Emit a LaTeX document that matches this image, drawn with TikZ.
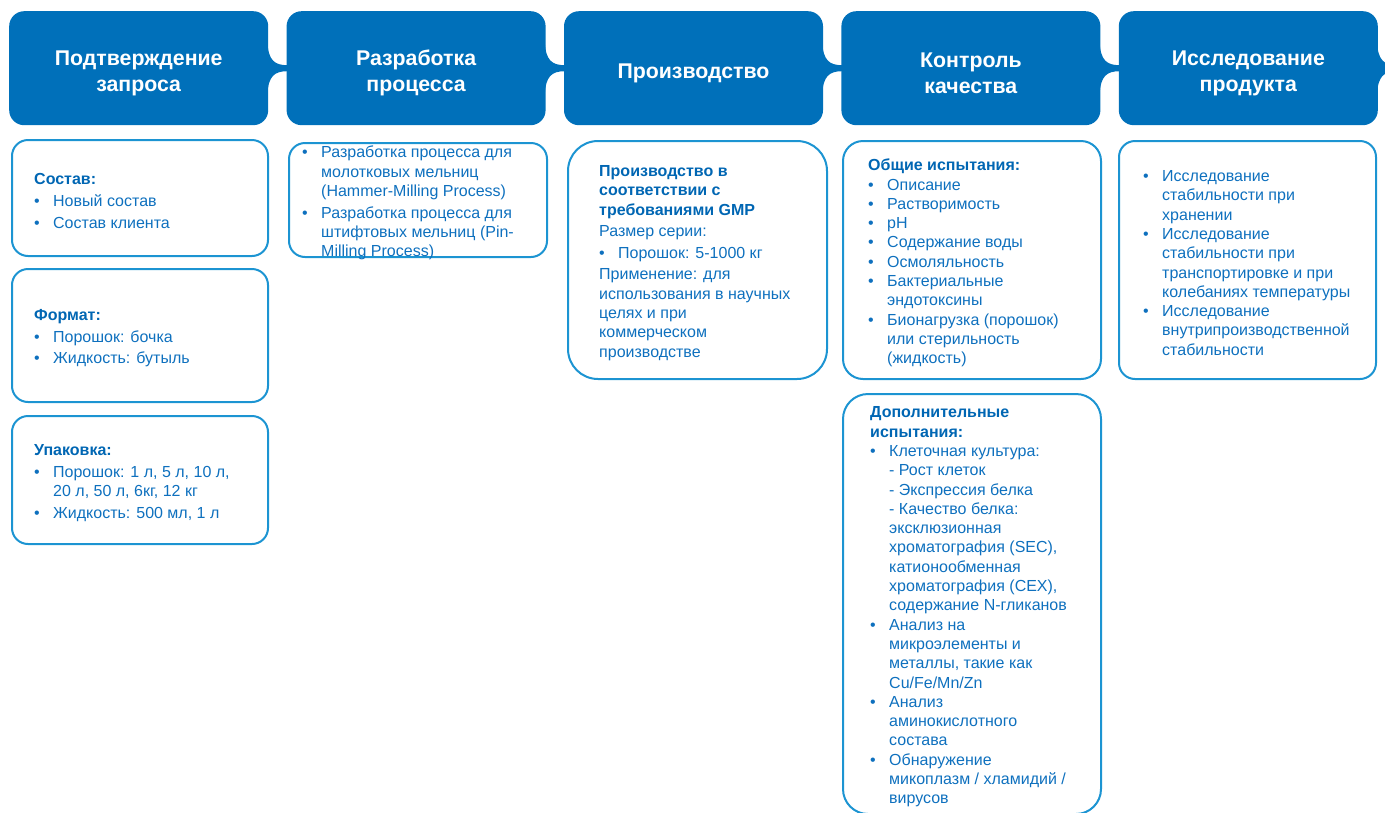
\documentclass[tikz,border=0pt]{standalone}
\usepackage{fontspec}
\setmainfont{Liberation Sans}
\usepackage{tikz}
\usetikzlibrary{positioning,calc}

\definecolor{hdrblue}{HTML}{0070BA}
\definecolor{edgeblue}{HTML}{1C94D2}
\definecolor{txtblue}{HTML}{0E70BE}
\definecolor{headblue}{HTML}{0066B3}

\newcommand{\blt}{\makebox[19pt][l]{\textbullet}}
\newcommand{\hng}{\hspace*{19pt}}
\newcommand{\hd}[1]{\textcolor{headblue}{\textbf{#1}}}

\tikzset{
  stage/.style={fill=hdrblue, rounded corners=15pt, minimum width=259pt, minimum height=114pt,
    inner sep=0pt, text width=250pt, align=center, text=white,
    font=\bfseries\fontsize{21.3}{26}\selectfont,
    execute at begin node={\rule{0pt}{25pt}}},
  card/.style={draw=edgeblue, line width=2pt, rounded corners=16pt, minimum width=256pt,
    inner sep=0pt, anchor=north west},
  info/.style={anchor=west, inner sep=0pt, yshift=-3pt, align=left, text=txtblue,
    font=\fontsize{16}{19.3}\selectfont},
}

\begin{document}
\begin{tikzpicture}[x=1pt,y=-1pt]
\useasboundingbox (0,0) rectangle (1385,812);

% stages
\node[stage, anchor=north west] (h1) at (9,11) {Подтверждение\\запроса};
\node[stage, right=18pt of h1] (h2) {Разработка\\процесса};
\node[stage, right=18pt of h2] (h3) {Производство};
\node[stage, right=18pt of h3] (h4) {Контроль\\качества};
\node[stage, right=18pt of h4] (h5) {Исследование\\продукта};
\coordinate[right=18pt of h5] (nxt);

% tabs joining the stages
\foreach \a/\b in {h1/h2.west,h2/h3.west,h3/h4.west,h4/h5.west,h5/nxt}
  \fill[hdrblue] ($(\a.east)+(-1,-26)$) .. controls ($(\a.east)+(0,-8)$) and ($(\a.east)+(6,-3)$)
    .. ($(\b)+(1,-3)$) -- ($(\b)+(1,3)$) .. controls ($(\a.east)+(6,3)$) and ($(\a.east)+(0,8)$)
    .. ($(\a.east)+(-1,26)$) -- cycle;

% cards
\node[card, minimum height=116pt] (b11) at (11,139) {};
\node[card, minimum height=133pt, below=11pt of b11] (b12) {};
\node[card, minimum height=128pt, below=12pt of b12] (b13) {};
\node[card, minimum height=114pt, minimum width=258pt] (b2) at (288,142) {};
\node[card, minimum height=238pt, minimum width=259pt, rounded corners=30pt] (b3) at (567,140) {};
\node[card, minimum height=238pt, minimum width=258pt, rounded corners=20pt] (b41) at (842,140) {};
\node[card, minimum height=420pt, minimum width=258pt, rounded corners=25pt, below=13pt of b41] (b42) {};
\node[card, minimum height=238pt, minimum width=257pt] (b5) at (1118,140) {};

\node[info] (t11) at ([xshift=23pt]b11.west) {\hd{Состав:}\\[2.3pt]
  \blt Новый состав\\[2.3pt]
  \blt Состав клиента};
\node[info] (t12) at ([xshift=23pt]b12.west) {\hd{Формат:}\\[2.3pt]
  \blt Порошок: бочка\\[2.3pt]
  \blt Жидкость: бутыль};
\node[info] (t13) at ([xshift=23pt]b13.west) {\hd{Упаковка:}\\[2.3pt]
  \blt Порошок: 1 л, 5 л, 10 л,\\
  \hng 20 л, 50 л, 6кг, 12 кг\\[2.3pt]
  \blt Жидкость: 500 мл, 1 л};

\node[info] (t2) at ([xshift=14pt]b2.west) {\blt Разработка процесса для\\
  \hng молотковых мельниц\\
  \hng (Hammer-Milling Process)\\[2.3pt]
  \blt Разработка процесса для\\
  \hng штифтовых мельниц (Pin-\\
  \hng Milling Process)};

\node[info] (t3) at ([xshift=32pt]b3.west) {\hd{Производство в}\\
  \hd{соответствии с}\\
  \hd{требованиями GMP}\\[2.3pt]
  Размер серии:\\[2.3pt]
  \blt Порошок: 5-1000 кг\\[2.3pt]
  Применение: для\\
  использования в научных\\
  целях и при\\
  коммерческом\\
  производстве};

\node[info] (t41) at ([xshift=26pt]b41.west) {\hd{Общие испытания:}\\
  \blt Описание\\
  \blt Растворимость\\
  \blt pH\\
  \blt Содержание воды\\
  \blt Осмоляльность\\
  \blt Бактериальные\\
  \hng эндотоксины\\
  \blt Бионагрузка (порошок)\\
  \hng или стерильность\\
  \hng (жидкость)};

\node[info] (t42) at ([xshift=28pt]b42.west) {\hd{Дополнительные}\\
  \hd{испытания:}\\
  \blt Клеточная культура:\\
  \hng - Рост клеток\\
  \hng - Экспрессия белка\\
  \hng - Качество белка:\\
  \hng эксклюзионная\\
  \hng хроматография (SEC),\\
  \hng катионообменная\\
  \hng хроматография (CEX),\\
  \hng содержание N-гликанов\\
  \blt Анализ на\\
  \hng микроэлементы и\\
  \hng металлы, такие как\\
  \hng Cu/Fe/Mn/Zn\\
  \blt Анализ\\
  \hng аминокислотного\\
  \hng состава\\
  \blt Обнаружение\\
  \hng микоплазм / хламидий /\\
  \hng вирусов};

\node[info] (t5) at ([xshift=25pt]b5.west) {\blt Исследование\\
  \hng стабильности при\\
  \hng хранении\\
  \blt Исследование\\
  \hng стабильности при\\
  \hng транспортировке и при\\
  \hng колебаниях температуры\\
  \blt Исследование\\
  \hng внутрипроизводственной\\
  \hng стабильности};
\end{tikzpicture}
\end{document}
